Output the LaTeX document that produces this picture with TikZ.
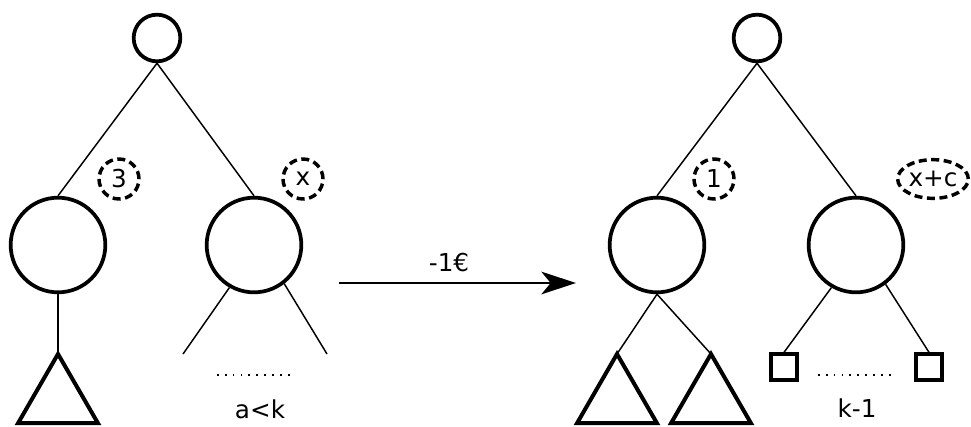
\documentclass[tikz,border=0pt]{standalone}
\usepackage{fontspec}
\setmainfont{DejaVu Sans}
\usetikzlibrary{shapes.geometric, arrows.meta}

\tikzset{
  vert/.style={circle, draw, line width=2.8pt, minimum size=#1, inner sep=0pt},
  cost/.style={draw, dash pattern=on 6pt off 3.4pt, line width=2.6pt, inner sep=0pt},
  subtree/.style={regular polygon, regular polygon sides=3, draw, line width=3pt,
    minimum size=69pt, inner sep=0pt, outer sep=0pt},
  leaf/.style={rectangle, draw, line width=3pt, minimum size=19pt, inner sep=0pt},
  edge/.style={line width=1.1pt},
  dots/.style={line width=1.5pt, dash pattern=on 1.3pt off 4.6pt}
}

\begin{document}
\begin{tikzpicture}[x=0.75pt, y=-0.75pt, font=\fontsize{18.5}{22}\selectfont]
  \useasboundingbox (0,0) rectangle (971,426);

  % before
  \node[vert=35pt] (root) at (157,38) {};
  \node[vert=71pt] (lc) at (58,245) {};
  \node[vert=71pt] (rc) at (254,245) {};
  \node[cost, circle, minimum size=30pt] (c3) at (119,179) {3};
  \node[cost, circle, minimum size=30pt] (cx) at (303,179) {x};
  \node[subtree] (t1) at (58,400) {};
  \coordinate (fa) at (183,354);
  \coordinate (fb) at (327,354);
  \draw[edge] (root.south) -- (lc.north);
  \draw[edge] (root.south) -- (rc.north);
  \draw[edge] (lc.south) -- (t1.corner 1);
  \draw[edge] (rc.-120) -- (fa);
  \draw[edge] (rc.-52) -- (fb);
  \draw[dots] (217,375) -- (290,375);
  \node (ak) at (260,409) {a<k};

  % arrow
  \coordinate (from) at (339,283);
  \coordinate (to) at (576,283);
  \draw[line width=1.5pt, -{Stealth[length=26pt, width=17pt, inset=7pt]}] (from) -- (to);
  \node (pay) at (449,263) {-1€};

  % after
  \node[vert=35pt] (root2) at (757,38) {};
  \node[vert=71pt] (lc2) at (657,245) {};
  \node[vert=71pt] (rc2) at (856,245) {};
  \node[cost, circle, minimum size=30pt] (c1) at (714,179) {1};
  \node[cost, ellipse, minimum width=53pt, minimum height=29pt] (cxc) at (933,179) {x+c};
  \node[subtree] (t2) at (617,400) {};
  \node[subtree] (t3) at (711,400) {};
  \node[leaf] (sq1) at (784,367) {};
  \node[leaf] (sq2) at (929,367) {};
  \draw[edge] (root2.south) -- (lc2.north);
  \draw[edge] (root2.south) -- (rc2.north);
  \draw[edge] (lc2.south) -- (t2.corner 1);
  \draw[edge] (lc2.south) -- (t3.corner 1);
  \draw[edge] (rc2.-120) -- (sq1.north);
  \draw[edge] (rc2.-53) -- (sq2.north);
  \draw[dots] (818,375) -- (891,375);
  \node (km) at (857,408) {k-1};
\end{tikzpicture}
\end{document}
